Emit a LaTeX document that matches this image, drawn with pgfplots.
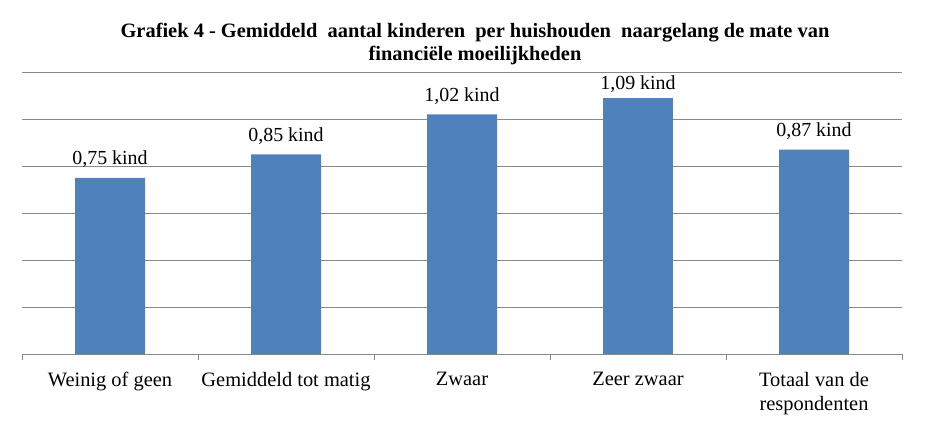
\documentclass[border=0pt]{standalone}
\usepackage{fontspec}
\setmainfont{Liberation Serif}
\usepackage{pgfplots}
\pgfplotsset{compat=1.18}
\definecolor{barblue}{HTML}{4F81BD}
\definecolor{gridgray}{HTML}{898989}
\begin{document}
\begin{tikzpicture}[x=1bp,y=1bp]
\useasboundingbox (0,0) rectangle (925,-423);
\begin{axis}[
  at={(22bp,-354bp)}, anchor=south west,
  scale only axis, width=880bp, height=282bp,
  xmin=-0.5, xmax=4.5, ymin=0, ymax=1.2,
  axis line style={draw=none},
  ytick={0,0.2,0.4,0.6,0.8,1,1.2}, yticklabels={},
  ymajorgrids, grid style={gridgray, line width=0.9bp},
  xtick pos=bottom, ytick pos=left,
  major tick length=0bp,
  major y tick style={draw=none},
  major x tick style={draw=none},
  xtick={0,1,2,3,4},
  xticklabels={Weinig of geen, Gemiddeld tot matig, Zwaar, Zeer zwaar, {Totaal van de\\respondenten}},
  minor xtick={-0.5,0.5,1.5,2.5,3.5,4.5},
  minor x tick style={gridgray, line width=0.9bp},
  xtick align=outside, minor tick length=6bp,
  xticklabel style={font=\fontsize{20.5}{24}\selectfont, align=center, anchor=north, inner sep=0pt, yshift=-18bp},
  nodes near coords={\pgfmathprintnumber[fixed,fixed zerofill,precision=2,use comma,assume math mode=true]{\pgfplotspointmeta}~kind},
  every node near coord/.append style={font=\fontsize{20}{24}\selectfont, anchor=base, inner sep=0pt, yshift=13bp, black},
  title={Grafiek 4 - Gemiddeld\ \ aantal kinderen\ \ per huishouden\ \ naargelang de mate van\\financiële moeilijkheden},
  title style={font=\bfseries\fontsize{20.5}{23}\selectfont, align=center, anchor=north, at={(0.5,1)}, inner sep=0pt, yshift=43bp, xshift=13bp},
]
\addplot[ybar, fill=barblue, draw=none, bar width=70bp, bar shift=0pt] coordinates {(0,0.75) (1,0.85) (2,1.02) (4,0.87)};
\addplot[ybar, fill=barblue, draw=none, bar width=70bp, bar shift=0pt, every node near coord/.append style={yshift=-5bp}] coordinates {(3,1.09)};
\end{axis}
\end{tikzpicture}
\end{document}
